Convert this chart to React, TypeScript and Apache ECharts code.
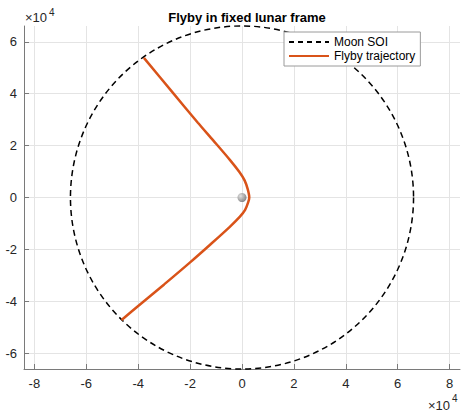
import React, { useEffect, useRef } from "react";
import * as echarts from "echarts";

// Positions in km, Moon-centred rotating frame
const SOI_RADIUS_KM = 66100;
const MOON_CENTER: [number, number] = [0, 0];

const trajX = [
  -37800, -27000, -17000, -11100, -4600, -1000, 1000, 2200, 2800, 2400, 1200,
  -800, -4800, -12300, -20000, -30000, -40000, -46400,
];
const trajY = [
  53800, 40800, 28800, 22000, 14400, 9800, 6600, 3200, 0, -1800, -4800, -7400,
  -11400, -18200, -25000, -33500, -41800, -47200,
];

const xTicks = [-80000, -60000, -40000, -20000, 0, 20000, 40000, 60000, 80000];
const yTicks = [-60000, -40000, -20000, 0, 20000, 40000, 60000];

const X_LIMIT = 84000;
const Y_LIMIT = 66100;

const FONT = "'Liberation Sans', Arial, Helvetica, sans-serif";
const AXIS_GRAY = "#7a7a7a";
const TEXT_GRAY = "#262626";
const GRID_GRAY = "#e4e4e4";
const TRAJ_COLOR = "#D95319";

function axisCommon(min: number, max: number, ticks: number[], margin: number) {
  return {
    type: "value" as const,
    min,
    max,
    axisLine: { show: true, onZero: false, lineStyle: { color: AXIS_GRAY, width: 1 } },
    axisTick: {
      show: true,
      inside: true,
      length: 5,
      customValues: ticks,
      lineStyle: { color: AXIS_GRAY },
    },
    axisLabel: {
      customValues: ticks,
      formatter: (v: number) => String(Math.round(v / 1e4)),
      color: TEXT_GRAY,
      fontSize: 13,
      fontFamily: FONT,
      margin,
    },
    splitLine: { show: true, lineStyle: { color: GRID_GRAY, width: 1 } },
  };
}

export default function App() {
  const ref = useRef<HTMLDivElement>(null);

  useEffect(() => {
    if (!ref.current) return;
    const chart = echarts.init(ref.current, null, { renderer: "svg" });

    const trajectory = trajX.map((x, i) => [x, trajY[i]]);

    chart.setOption({
      animation: false,
      backgroundColor: "#ffffff",
      textStyle: { fontFamily: FONT },
      title: {
        text: "Flyby in fixed lunar frame",
        left: 242,
        top: 6,
        textAlign: "center",
        textStyle: { fontSize: 13, fontWeight: "bold", color: "#000", fontFamily: FONT },
      },
      grid: { left: 24, right: 1, top: 26, bottom: 48, containLabel: false },
      xAxis: axisCommon(-X_LIMIT, X_LIMIT, xTicks, 8),
      yAxis: axisCommon(-Y_LIMIT, Y_LIMIT, yTicks, 7),
      legend: {
        orient: "vertical",
        left: 284,
        top: 32,
        padding: [4, 5, 4, 4],
        itemGap: 2,
        itemWidth: 40,
        itemHeight: 13,
        backgroundColor: "#ffffff",
        borderColor: "#9a9a9a",
        borderWidth: 1,
        borderRadius: 0,
        // line-only legend keys
        itemStyle: { opacity: 0, borderWidth: 0 },
        data: ["Moon SOI", "Flyby trajectory"],
        textStyle: { fontSize: 12, color: "#000", fontFamily: FONT },
        selectedMode: false,
      },
      series: [
        {
          // legend entry for the sphere-of-influence boundary
          name: "Moon SOI",
          type: "line",
          data: [],
          symbol: "none",
          lineStyle: { color: "#000", width: 1.3, type: [5, 4] },
          itemStyle: { color: "#000" },
        },
        {
          name: "SOI boundary",
          type: "custom",
          coordinateSystem: "cartesian2d",
          clip: false,
          silent: true,
          data: [[MOON_CENTER[0], MOON_CENTER[1], SOI_RADIUS_KM]],
          renderItem: (params: any, api: any) => {
            const c = api.coord([api.value(0), api.value(1)]);
            const r = api.size([api.value(2), 0])[0];
            return {
              type: "circle",
              shape: { cx: c[0], cy: c[1], r },
              style: { fill: "none", stroke: "#000", lineWidth: 1.5, lineDash: [6, 4] },
            };
          },
          z: 2,
        },
        {
          name: "Flyby trajectory",
          type: "line",
          data: trajectory,
          showSymbol: false,
          symbol: "none",
          smooth: 0.3,
          lineStyle: { color: TRAJ_COLOR, width: 2.5 },
          itemStyle: { color: TRAJ_COLOR },
          z: 3,
        },
        {
          name: "Moon",
          type: "scatter",
          data: [MOON_CENTER],
          symbol: "circle",
          symbolSize: 9,
          silent: true,
          itemStyle: {
            color: new echarts.graphic.RadialGradient(0.35, 0.35, 0.75, [
              { offset: 0, color: "#dcdcdc" },
              { offset: 1, color: "#5f5f5f" },
            ]),
          },
          z: 4,
        },
      ],
      graphic: [
        {
          type: "text",
          left: 25,
          top: 11,
          style: { text: "×10", fontSize: 13, fill: TEXT_GRAY, fontFamily: FONT },
        },
        {
          type: "text",
          left: 49,
          top: 7,
          style: { text: "4", fontSize: 10, fill: TEXT_GRAY, fontFamily: FONT },
        },
        {
          type: "text",
          left: 428,
          top: 399,
          style: { text: "×10", fontSize: 13, fill: TEXT_GRAY, fontFamily: FONT },
        },
        {
          type: "text",
          left: 452,
          top: 393,
          style: { text: "4", fontSize: 10, fill: TEXT_GRAY, fontFamily: FONT },
        },
      ],
    });

    return () => chart.dispose();
  }, []);

  return (
    <div
      ref={ref}
      style={{ position: "fixed", left: 0, top: 0, width: 461, height: 417, background: "#fff" }}
    />
  );
}
